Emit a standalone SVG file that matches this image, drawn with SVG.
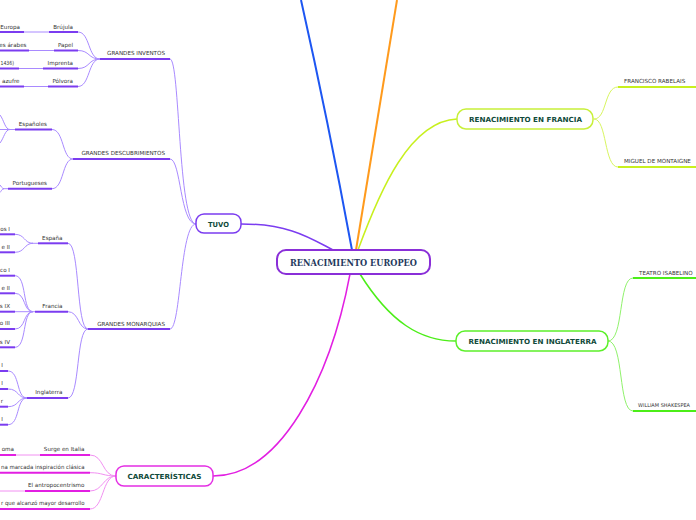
<svg xmlns="http://www.w3.org/2000/svg" width="696" height="520" viewBox="0 0 696 520">
<style>
.lbl{font-family:"DejaVu Sans",Verdana,sans-serif;font-size:5.6px;fill:#333}
.end{text-anchor:end}
.nt{font-family:"DejaVu Sans",Verdana,sans-serif;font-size:7px;font-weight:bold;fill:#0f4a3a;text-anchor:middle}
.ct{font-family:"DejaVu Serif","Liberation Serif",serif;font-size:8.6px;font-weight:bold;fill:#263a5e;text-anchor:middle}
.node{fill:#fff;stroke-width:1.5}
path,line{fill:none}
.pu{stroke:#7b3cf0;stroke-width:2}
.pul{stroke:#a98aff;stroke-width:1}
.mg{stroke:#e21fe2;stroke-width:2}
.mgl{stroke:#f290f2;stroke-width:1}
.yg{stroke:#c8f01e;stroke-width:2}
.ygl{stroke:#d8f560;stroke-width:1}
.gr{stroke:#4cee18;stroke-width:2}
.grl{stroke:#90f26c;stroke-width:1}
</style>
<g id="connectors">
<path d="M352,250 Q328,120 301,0" stroke="#1d56f2" stroke-width="2"/>
<path d="M356,250 Q377,120 397,0" stroke="#ff9a1c" stroke-width="2"/>
<path d="M358,250 C380,190 410,121 457,119" stroke="#c8f01e" stroke-width="1.5"/>
<path d="M360,274 C390,322 420,341 456,341" stroke="#4cee18" stroke-width="1.5"/>
<path d="M350,274 C330,380 280,476 213,476" stroke="#e21fe2" stroke-width="1.5"/>
<path d="M241,224 C290,224 310,238 333,250" stroke="#7b3cf0" stroke-width="1.5"/>
<path class="pul" d="M170,59 C180,59 178,224 196,224"/>
<path class="pul" d="M170,159 C181,159 180,224 196,224"/>
<path class="pul" d="M170,329 C181,329 180,224 196,224"/>
<path class="pul" d="M78,32 C90,32 88,59 100,59"/>
<path class="pul" d="M78,50.5 C90,50.5 88,59 100,59"/>
<path class="pul" d="M78,68.5 C90,68.5 88,59 100,59"/>
<path class="pul" d="M78,86.5 C90,86.5 88,59 100,59"/>
<line class="pul" x1="24" y1="32" x2="49" y2="32"/>
<line class="pul" x1="29" y1="50.5" x2="54" y2="50.5"/>
<line class="pul" x1="19" y1="68.5" x2="43" y2="68.5"/>
<line class="pul" x1="24" y1="86.5" x2="48" y2="86.5"/>
<path class="pul" d="M52,129.5 C64,129.5 62,159 73,159"/>
<path class="pul" d="M52,188.7 C64,188.7 62,159 73,159"/>
<line class="pul" x1="0" y1="129.5" x2="15" y2="129.5"/>
<path class="pul" d="M10,129.5 C5,129.5 4,120 0,115"/>
<path class="pul" d="M10,129.5 C5,129.5 4,138 0,143"/>
<line class="pul" x1="3" y1="188.7" x2="8" y2="188.7"/>
<path class="pul" d="M4,188.7 C2,188.7 1,186 0,185"/>
<path class="pul" d="M4,188.7 C2,188.7 1,191.5 0,192.5"/>
<path class="pul" d="M68,243.3 C80,243.3 76,329 88,329"/>
<path class="pul" d="M68,311.7 C79,311.7 78,329 88,329"/>
<path class="pul" d="M68,398 C80,398 76,329 88,329"/>
<path class="pul" d="M15,234.3 C25,234.3 24,243.3 33,243.3"/>
<path class="pul" d="M15,252.3 C25,252.3 24,243.3 33,243.3"/>
<line class="pul" x1="32" y1="243.3" x2="38" y2="243.3"/>
<path class="pul" d="M15,275.7 C27,275.7 22,311.7 33,311.7"/>
<path class="pul" d="M15,293.3 C26,293.3 23,311.7 33,311.7"/>
<line class="pul" x1="15" y1="311.7" x2="35" y2="311.7"/>
<path class="pul" d="M15,329 C26,329 23,311.7 33,311.7"/>
<path class="pul" d="M15,347.3 C27,347.3 22,311.7 33,311.7"/>
<path class="pul" d="M8,371 C20,371 16,398 27,398"/>
<path class="pul" d="M8,389 C19,389 17,398 27,398"/>
<path class="pul" d="M8,406.7 C19,406.7 17,398 27,398"/>
<path class="pul" d="M8,424.7 C20,424.7 16,398 27,398"/>
<path class="mgl" d="M90,455 C104,455 102,476 116,476"/>
<path class="mgl" d="M90,472.7 C103,472.7 103,476 116,476"/>
<path class="mgl" d="M90,491 C103,491 103,476 116,476"/>
<path class="mgl" d="M90,509 C104,509 102,476 116,476"/>
<line class="mgl" x1="16" y1="455" x2="40" y2="455"/>
<line class="mgl" x1="0" y1="491" x2="25" y2="491"/>
<path class="ygl" d="M594,119 C607,119 604,87 618,87"/>
<path class="ygl" d="M594,119 C607,119 604,167 618,167"/>
<path class="grl" d="M608,341 C624,341 618,278 633,278"/>
<path class="grl" d="M608,341 C624,341 618,411 633,411"/>
</g>
<g id="center">
<rect x="277" y="250" width="153" height="24" rx="9" fill="#fff" stroke="#8a2fd8" stroke-width="2"/>
<text class="ct" x="353.5" y="265.7" textLength="127" lengthAdjust="spacingAndGlyphs">RENACIMIENTO EUROPEO</text>
</g>
<g id="tuvo">
<rect class="node" x="196" y="214" width="45" height="19" rx="8" stroke="#7b3cf0"/>
<text class="nt" x="218.5" y="226.7" textLength="21" lengthAdjust="spacingAndGlyphs">TUVO</text>
</g>
<g id="inventos">
<line class="pu" x1="100" y1="59" x2="170" y2="59"/>
<text class="lbl end" x="165" y="55">GRANDES INVENTOS</text>
</g>
<g id="brujula"><line class="pu" x1="49" y1="32" x2="78" y2="32"/><text class="lbl end" x="73" y="28.5">Brújula</text></g>
<g id="europa"><line class="pu" x1="0" y1="32" x2="24" y2="32"/><text class="lbl end" x="20" y="28.5">Europa</text></g>
<g id="papel"><line class="pu" x1="54" y1="50.5" x2="78" y2="50.5"/><text class="lbl end" x="73" y="46.8">Papel</text></g>
<g id="arabes"><line class="pu" x1="0" y1="50.5" x2="29" y2="50.5"/><text class="lbl end" x="26.5" y="46.8">es árabes</text></g>
<g id="imprenta"><line class="pu" x1="43" y1="68.5" x2="78" y2="68.5"/><text class="lbl end" x="73" y="64.8">Imprenta</text></g>
<g id="fecha"><line class="pu" x1="0" y1="68.5" x2="19" y2="68.5"/><text class="lbl end" x="14" y="64.8" textLength="13.5" lengthAdjust="spacingAndGlyphs">1436)</text></g>
<g id="polvora"><line class="pu" x1="48" y1="86.5" x2="78" y2="86.5"/><text class="lbl end" x="73" y="82.8">Pólvora</text></g>
<g id="azufre"><line class="pu" x1="0" y1="86.5" x2="24" y2="86.5"/><text class="lbl end" x="19.5" y="82.8">azufre</text></g>
<g id="descubrimientos">
<line class="pu" x1="73" y1="159" x2="170" y2="159"/>
<text class="lbl end" x="165" y="155">GRANDES DESCUBRIMIENTOS</text>
</g>
<g id="espanoles"><line class="pu" x1="15" y1="129.5" x2="52" y2="129.5"/><text class="lbl end" x="47" y="125.8">Españoles</text></g>
<g id="portugueses"><line class="pu" x1="8" y1="188.7" x2="52" y2="188.7"/><text class="lbl end" x="47" y="185">Portugueses</text></g>
<g id="monarquias">
<line class="pu" x1="88" y1="329" x2="170" y2="329"/>
<text class="lbl end" x="165" y="325.5">GRANDES MONARQUIAS</text>
</g>
<g id="espana"><line class="pu" x1="38" y1="243.3" x2="68" y2="243.3"/><text class="lbl end" x="62.5" y="239.6">España</text></g>
<g id="es1"><line class="pu" x1="0" y1="234.3" x2="15" y2="234.3"/><text class="lbl end" x="10" y="230.6">os I</text></g>
<g id="es2"><line class="pu" x1="0" y1="252.3" x2="15" y2="252.3"/><text class="lbl end" x="10" y="248.6">e II</text></g>
<g id="francia"><line class="pu" x1="35" y1="311.7" x2="68" y2="311.7"/><text class="lbl end" x="62.5" y="308">Francia</text></g>
<g id="fr1"><line class="pu" x1="0" y1="275.7" x2="15" y2="275.7"/><text class="lbl end" x="10" y="272">co I</text></g>
<g id="fr2"><line class="pu" x1="0" y1="293.3" x2="15" y2="293.3"/><text class="lbl end" x="10" y="289.6">e II</text></g>
<g id="fr3"><line class="pu" x1="0" y1="311.7" x2="15" y2="311.7"/><text class="lbl end" x="10" y="308">s IX</text></g>
<g id="fr4"><line class="pu" x1="0" y1="329" x2="15" y2="329"/><text class="lbl end" x="10" y="325.3">o III</text></g>
<g id="fr5"><line class="pu" x1="0" y1="347.3" x2="15" y2="347.3"/><text class="lbl end" x="10" y="343.6">s IV</text></g>
<g id="inglaterra"><line class="pu" x1="27" y1="398" x2="68" y2="398"/><text class="lbl end" x="62.5" y="394.3">Inglaterra</text></g>
<g id="in1"><line class="pu" x1="0" y1="371" x2="8" y2="371"/><text class="lbl end" x="3" y="367.3">I</text></g>
<g id="in2"><line class="pu" x1="0" y1="389" x2="8" y2="389"/><text class="lbl end" x="3" y="385.3">I</text></g>
<g id="in3"><line class="pu" x1="0" y1="406.7" x2="8" y2="406.7"/><text class="lbl end" x="3" y="403">r</text></g>
<g id="in4"><line class="pu" x1="0" y1="424.7" x2="8" y2="424.7"/><text class="lbl end" x="3" y="421">I</text></g>
<g id="caracteristicas">
<rect class="node" x="116" y="466" width="97" height="20" rx="8" stroke="#e42ee4"/>
<text class="nt" x="164.5" y="479" textLength="74" lengthAdjust="spacingAndGlyphs">CARACTERÍSTICAS</text>
</g>
<g id="italia"><line class="mg" x1="40" y1="455" x2="90" y2="455"/><text class="lbl end" x="84.5" y="451.3">Surge en Italia</text></g>
<g id="roma"><line class="mg" x1="0" y1="455" x2="16" y2="455"/><text class="lbl end" x="14" y="451.3">oma</text></g>
<g id="clasica"><line class="mg" x1="0" y1="472.7" x2="90" y2="472.7"/><text class="lbl end" x="84.5" y="469" textLength="83.5" lengthAdjust="spacingAndGlyphs">na marcada inspiración clásica</text></g>
<g id="antropo"><line class="mg" x1="25" y1="491" x2="90" y2="491"/><text class="lbl end" x="84.5" y="487.3">El antropocentrismo</text></g>
<g id="desarrollo"><line class="mg" x1="0" y1="509" x2="90" y2="509"/><text class="lbl end" x="84.5" y="505.3" textLength="83.5" lengthAdjust="spacingAndGlyphs">r que alcanzó mayor desarrollo</text></g>
<g id="ren-francia">
<rect class="node" x="457" y="109" width="136" height="20" rx="9" stroke="#c8f03a"/>
<text class="nt" x="525.5" y="122" textLength="113" lengthAdjust="spacingAndGlyphs">RENACIMIENTO EN FRANCIA</text>
</g>
<g id="rabelais"><line class="yg" x1="618" y1="87" x2="696" y2="87"/><text class="lbl" x="624" y="83">FRANCISCO RABELAIS</text></g>
<g id="montaigne"><line class="yg" x1="618" y1="167" x2="696" y2="167"/><text class="lbl" x="624" y="163">MIGUEL DE MONTAIGNE</text></g>
<g id="ren-inglaterra">
<rect class="node" x="456" y="331" width="152" height="20" rx="9" stroke="#5cf02a"/>
<text class="nt" x="532.5" y="344" textLength="128" lengthAdjust="spacingAndGlyphs">RENACIMIENTO EN INGLATERRA</text>
</g>
<g id="teatro"><line class="gr" x1="633" y1="278" x2="696" y2="278"/><text class="lbl" x="639" y="274.5">TEATRO ISABELINO</text></g>
<g id="shakespeare"><line class="gr" x1="633" y1="411" x2="696" y2="411"/><text class="lbl" x="638" y="407.3" style="font-size:5.2px" textLength="52" lengthAdjust="spacingAndGlyphs">WILLIAM SHAKESPEA</text></g>
</svg>
